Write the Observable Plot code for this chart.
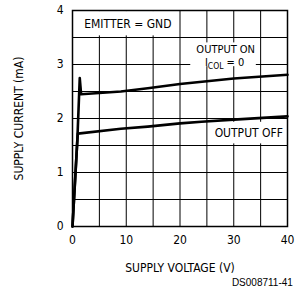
<!DOCTYPE html>
<html>
<head>
<meta charset="utf-8">
<script src="https://cdn.jsdelivr.net/npm/d3@7"></script>
<script src="https://cdn.jsdelivr.net/npm/@observablehq/plot@0.6"></script>
<style>
  body { margin: 0; background: #fff; }
</style>
</head>
<body>
<div id="chart"></div>
<script>
// Supply current vs supply voltage
const onVoltage  = [0, 0.9, 1.35, 1.6, 9, 14, 20, 30, 40];
const onCurrent  = [0, 1.6, 2.75, 2.45, 2.5, 2.56, 2.64, 2.74, 2.81];
const offVoltage = [0, 0.9, 1.0, 9, 14, 20, 24, 30, 40];
const offCurrent = [0, 1.6, 1.72, 1.81, 1.85, 1.91, 1.94, 1.98, 2.04];

const xTicks = [0, 10, 20, 30, 40];
const yTicks = [0, 1, 2, 3, 4];
const xGrid = [5, 10, 15, 20, 25, 30, 35];
const yGrid = [0.5, 1, 1.5, 2, 2.5, 3, 3.5];

const xLabel = "SUPPLY VOLTAGE (V)";
const yLabel = "SUPPLY CURRENT (mA)";
const noteText = "EMITTER = GND";
const onText1 = "OUTPUT ON";
const onText2 = "ICOL = 0";
const offText = "OUTPUT OFF";
const codeText = "DS008711-41";

const onData = onVoltage.map((v, i) => ({v, c: onCurrent[i]}));
const offData = offVoltage.map((v, i) => ({v, c: offCurrent[i]}));

const font = "'DejaVu Sans Condensed', 'Liberation Sans', sans-serif";

const chart = Plot.plot({
  width: 295,
  height: 291,
  marginLeft: 72,
  marginRight: 8,
  marginTop: 10,
  marginBottom: 65,
  style: {fontFamily: font, fontSize: "12px", color: "#000", background: "#fff"},
  x: {domain: [0, 40]},
  y: {domain: [0, 4]},
  marks: [
    Plot.ruleX(xGrid, {stroke: "#000", strokeWidth: 1}),
    Plot.ruleY(yGrid, {stroke: "#000", strokeWidth: 1}),
    // label backgrounds
    Plot.rect([0], {x1: 0.2, x2: 19.7, y1: 3.53, y2: 3.98, fill: "#fff"}),
    Plot.rect([0], {x1: 22, x2: 34.2, y1: 2.96, y2: 3.4, fill: "#fff"}),
    Plot.rect([0], {x1: 26, x2: 39.8, y1: 1.53, y2: 1.93, fill: "#fff"}),
    Plot.frame({stroke: "#000", strokeWidth: 1.5}),
    Plot.line(onData, {x: "v", y: "c", stroke: "#000", strokeWidth: 2.6}),
    Plot.line(offData, {x: "v", y: "c", stroke: "#000", strokeWidth: 2.6}),
    Plot.text([noteText], {x: 10.3, y: 3.75, text: d => d, fill: "#000"}),
    Plot.text([onText1], {x: 28.5, y: 3.28, text: d => d, fill: "#000", fontSize: 11}),
    Plot.text([onText2], {x: 28.3, y: 3.03, text: d => d, fill: "#000", fontSize: 11}),
    Plot.text([offText], {x: 32.8, y: 1.72, text: d => d, fill: "#000"}),
    Plot.axisX(xTicks, {tickSize: 0, tickPadding: 9, label: null, fontSize: 12, tickFormat: d => String(d)}),
    Plot.axisY(yTicks, {tickSize: 0, tickPadding: 9, label: null, fontSize: 12, tickFormat: d => String(d)}),
    Plot.text([xLabel], {x: 20, y: -0.78, text: d => d, fill: "#000"}),
    Plot.text([yLabel], {x: -10, y: 2, rotate: -90, text: d => d, fill: "#000"}),
    Plot.text([codeText], {x: 41, y: -1.04, textAnchor: "end", text: d => d, fill: "#000", fontSize: 10, fontFamily: "'Liberation Sans', Arial, sans-serif"})
  ]
});

// subscript for I_COL
d3.select(chart).selectAll("text").each(function () {
  if (this.textContent === onText2) {
    const t = d3.select(this);
    t.text(null);
    t.append("tspan").text("I");
    t.append("tspan").attr("font-size", 8.5).attr("dy", 3).text("COL");
    t.append("tspan").attr("dy", -3).text(" = 0");
  }
});

document.getElementById("chart").appendChild(chart);
</script>
</body>
</html>
